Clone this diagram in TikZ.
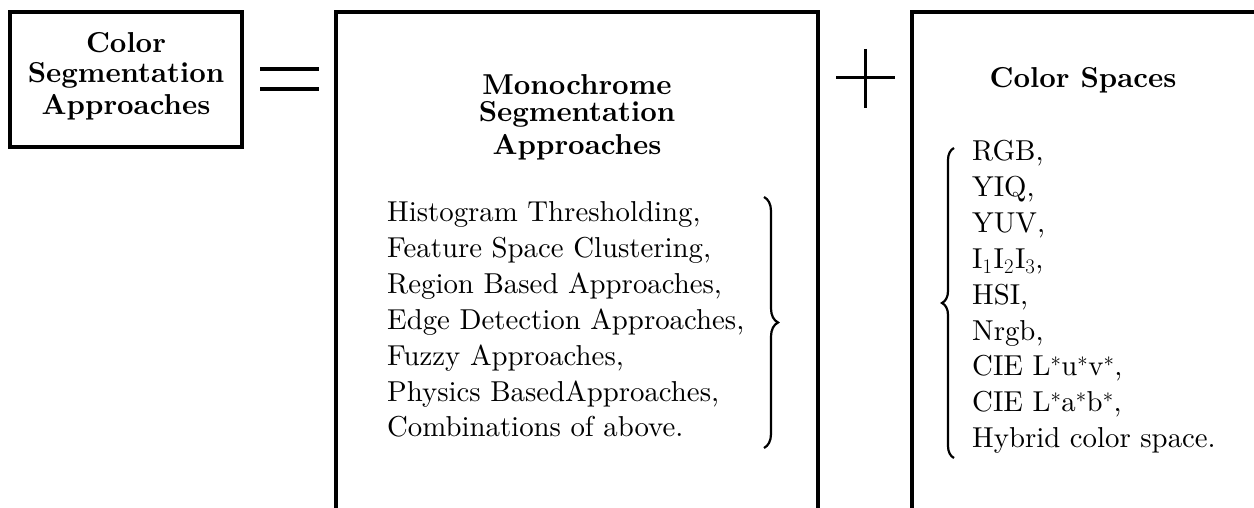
\documentclass[tikz,border=0pt]{standalone}
\usepackage{fontspec}
\usetikzlibrary{decorations.pathreplacing}
\newfontfamily\lmlist{lmroman10-regular.otf}
\newfontfamily\lmtitle{lmroman10-bold.otf}
\begin{document}
\begin{tikzpicture}[x=1pt,y=-1pt,line join=miter]
\tikzset{
  frame/.style={line width=3.5pt},
  sign/.style={line width=4pt},
  ttl/.style={inner sep=0pt,anchor=base,font=\lmtitle\fontsize{28.8}{34}\selectfont},
  itm/.style={inner sep=0pt,anchor=base west,font=\lmlist\fontsize{28.8}{34}\selectfont},
  curly/.style={line width=2.2pt,decorate,decoration={brace,amplitude=#1}}
}
\useasboundingbox (0,0) rectangle (1254,508);
% left box
\node[draw,frame,minimum width=232pt,minimum height=135pt,inner sep=0pt] (csa) at (126,79.5) {};
\node[ttl] (csa1) at (126,53) {Color};
\node[ttl] (csa2) at (126,83) {Segmentation};
\node[ttl] (csa3) at (126,115) {Approaches};
% equals
\coordinate (eqa) at (260,69);
\coordinate (eqb) at (319,69);
\coordinate (eqc) at (260,89);
\coordinate (eqd) at (319,89);
\draw[sign] (eqa) -- (eqb);
\draw[sign] (eqc) -- (eqd);
% middle open box
\coordinate (mbl) at (336,515);
\coordinate (mtl) at (336,12);
\coordinate (mtr) at (818,12);
\coordinate (mbr) at (818,515);
\draw[frame] (mbl) -- (mtl) -- (mtr) -- (mbr);
\node[ttl] (mt1) at (577,95) {Monochrome};
\node[ttl] (mt2) at (577,122) {Segmentation};
\node[ttl] (mt3) at (577,155) {Approaches};
\foreach \t [count=\i] in {{Histogram Thresholding,},{Feature Space Clustering,},{Region Based Approaches,},{Edge Detection Approaches,},{Fuzzy Approaches,},{Physics BasedApproaches,},{Combinations of above.}}
  {\node[itm] (ml\i) at (387,{222+35.8*(\i-1)}) {\t};}
\coordinate (mbt) at (764,197);
\coordinate (mbb) at (764,448);
\draw[curly=14pt] (mbt) -- (mbb);
% plus
\coordinate (pa) at (836,78);
\coordinate (pb) at (895,78);
\coordinate (pc) at (865,49);
\coordinate (pd) at (865,108);
\draw[line width=3pt] (pa) -- (pb);
\draw[line width=3pt] (pc) -- (pd);
% right open box
\coordinate (rbl) at (912,515);
\coordinate (rtl) at (912,12);
\coordinate (rtr) at (1260,12);
\draw[frame] (rbl) -- (rtl) -- (rtr);
\node[ttl] (rt) at (1083,88) {Color Spaces};
\foreach \t [count=\i] in {{RGB,},{YIQ,},{YUV,},{I$_1$\kern1ptI$_2$\kern1ptI$_3$,},{HSI,},{Nrgb,},{CIE L$^*$u$^*$v$^*$,},{CIE L$^*$a$^*$b$^*$,},{Hybrid color space.}}
  {\node[itm] (rl\i) at (972,{161+35.8*(\i-1)}) {\t};}
\coordinate (rbt) at (954,148);
\coordinate (rbb) at (954,458);
\draw[curly=12pt] (rbb) -- (rbt);
\end{tikzpicture}
\end{document}
